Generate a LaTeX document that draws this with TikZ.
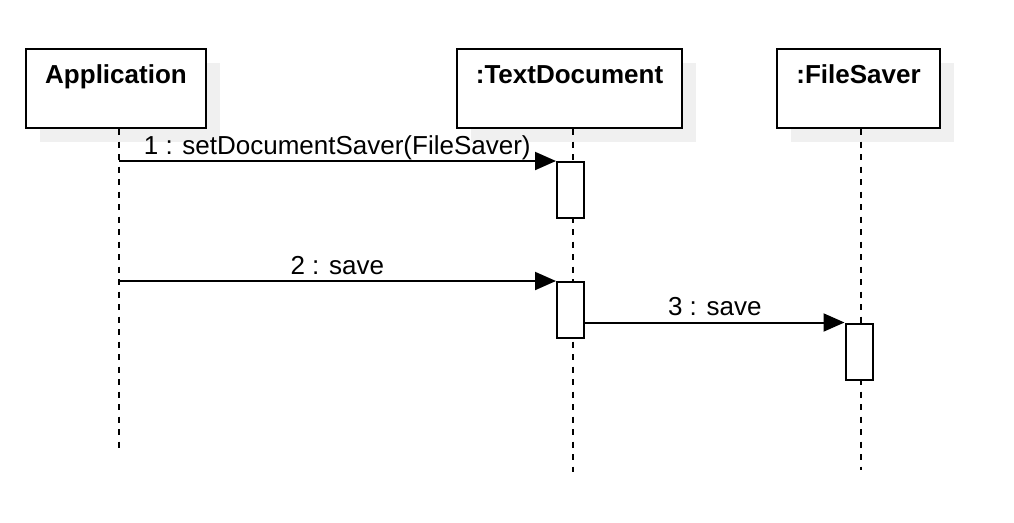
\documentclass[tikz,border=0pt]{standalone}
\usepackage{fontspec}
\setmainfont{Liberation Sans}
\usetikzlibrary{arrows.meta,shadows}

\tikzset{
	obj/.style={draw, line width=2pt, fill=white, minimum width=#1, inner xsep=0pt, inner ysep=15pt,
		text height=19pt, text depth=30pt, font=\fontsize{26}{30}\selectfont\bfseries,
		drop shadow={fill=black!6, opacity=1, shadow xshift=14pt, shadow yshift=-14pt}},
	lifeline/.style={line width=2pt, dash pattern=on 6pt off 6.5pt},
	act/.style={draw, line width=2pt, fill=white, minimum width=27pt, minimum height=56pt, inner sep=0pt},
	msg/.style={line width=2pt, -{Triangle[length=21pt,width=18pt]}},
	lbl/.style={anchor=base, yshift=7pt, inner sep=0pt, font=\fontsize{26}{30}\selectfont}
}

\begin{document}
\begin{tikzpicture}[x=1pt,y=-1pt]
			\useasboundingbox (0,0) rectangle (1014,522);
			\node[obj=180pt] (app) at (116,88.5) {Application};
			\node[obj=225pt] (doc) at (569.5,88.5) {:TextDocument};
			\node[obj=163pt] (saver) at (858.5,88.5) {:FileSaver};

			\coordinate (apptop) at ([xshift=2.5pt]app.south);
			\coordinate (doctop) at ([xshift=3pt]doc.south);
			\coordinate (savertop) at ([xshift=2.5pt]saver.south);
			\draw[lifeline] (apptop) -- (apptop |- 0,448);
			\draw[lifeline] (doctop) -- (doctop |- 0,472);
			\draw[lifeline] (savertop) -- (savertop |- 0,470);

			\node[act] (act1) at (570.5,190) {};
			\node[act] (act2) at (570.5,310) {};
			\node[act] (act3) at (859,351.5) {};

			\draw[msg] (apptop |- act1.north) -- node[lbl] {1 : setDocumentSaver(FileSaver)} (act1.north west);
			\draw[msg] (apptop |- act2.north) -- node[lbl] {2 : save} (act2.north west);
			\draw[msg] (act2.east |- act3.north) -- node[lbl] {3 : save} (act3.north west);
		\end{tikzpicture}
\end{document}
